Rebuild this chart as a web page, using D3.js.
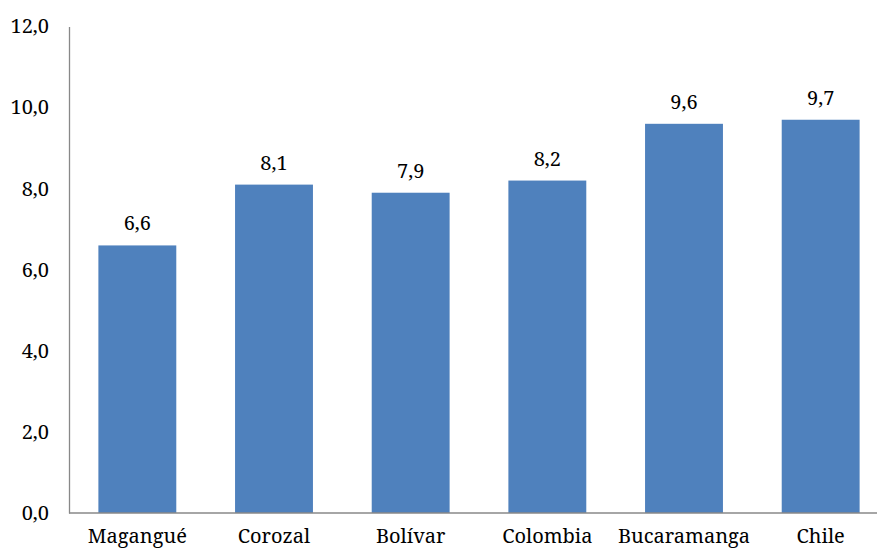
<!DOCTYPE html>
<html><head><meta charset="utf-8">
<script src="https://cdn.jsdelivr.net/npm/d3@7"></script>
<style>body{margin:0;background:#fff}svg{display:block}</style>
</head><body>
<svg id="c" width="877" height="555"></svg>
<script>
const categories = ["Magangué","Corozal","Bolívar","Colombia","Bucaramanga","Chile"];
const values = [6.6, 8.1, 7.9, 8.2, 9.6, 9.7];
const yTicks = [0, 2, 4, 6, 8, 10, 12];

const svg = d3.select("#c");
const font = "'Noto Serif'";
const fs = 20;
const x = d3.scaleBand().domain(categories).range([69, 889]).paddingInner(0.43).paddingOuter(0.215);
const y = d3.scaleLinear().domain([0, 12]).range([513, 26.5]);
const fmt = v => d3.format(".1f")(v).replace(".", ",");

svg.selectAll("rect.bar").data(values).join("rect")
  .attr("class","bar")
  .attr("x",(d,i)=>x(categories[i]))
  .attr("width",x.bandwidth())
  .attr("y",d=>y(d))
  .attr("height",d=>y(0)-y(d))
  .attr("fill","#4F81BD");

const yAxis = svg.append("g").attr("transform","translate(69,0)")
  .call(d3.axisLeft(y).tickValues(yTicks).tickFormat(fmt).tickSize(0).tickPadding(20));
yAxis.select(".domain").attr("stroke","#888").attr("stroke-width",1.3);
yAxis.attr("font-family",font).attr("font-size",fs);
yAxis.selectAll("text").attr("fill","#000");

const xAxis = svg.append("g").attr("transform","translate(0,513)")
  .call(d3.axisBottom(x).tickSize(0).tickPadding(16));
xAxis.select(".domain").attr("stroke","#888").attr("stroke-width",1.3).attr("d","M69,0H877");
xAxis.attr("font-family",font).attr("font-size",fs);
xAxis.selectAll("text").attr("fill","#000");

svg.append("g").attr("font-family",font).attr("font-size",fs)
  .selectAll("text").data(values).join("text")
  .attr("x",(d,i)=>x(categories[i])+x.bandwidth()/2)
  .attr("y",d=>y(d)-15)
  .attr("text-anchor","middle")
  .attr("fill","#000")
  .text(d=>fmt(d));
</script>
</body></html>
